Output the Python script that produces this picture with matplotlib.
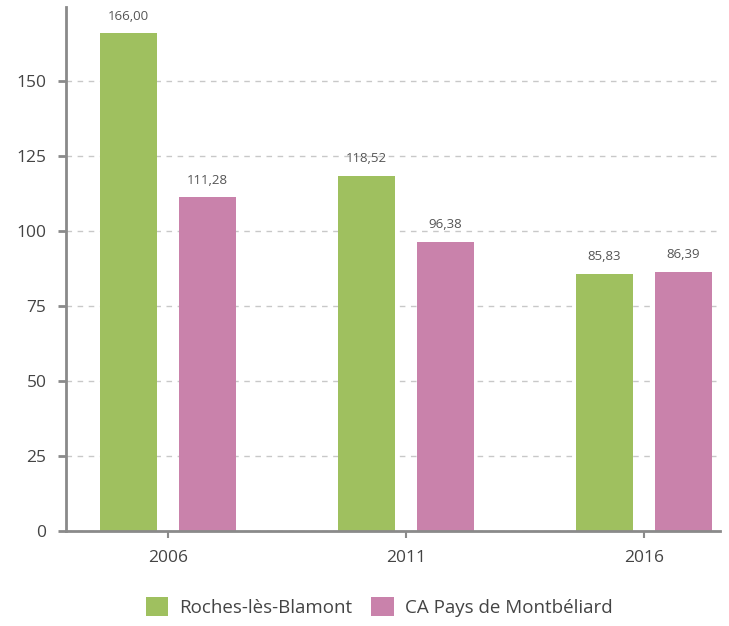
import numpy as np
import matplotlib
matplotlib.use("Agg")
import matplotlib.pyplot as plt

years = ["2006", "2011", "2016"]
roches = [166.00, 118.52, 85.83]
ca_pays = [111.28, 96.38, 86.39]
series_names = ["Roches-lès-Blamont", "CA Pays de Montbéliard"]
colors = ["#9fc05f", "#c982ab"]
yticks = [0, 25, 50, 75, 100, 125, 150]

plt.rcParams["font.family"] = ["Open Sans", "DejaVu Sans"]
text_col = "#444444"

fig = plt.figure(figsize=(7.29, 6.26), dpi=100)
ax = fig.add_axes([66 / 729, 95 / 626, 654 / 729, 524 / 626])

x = np.arange(len(years))
w = 0.24
off = 0.166
for vals, name, col, sign in [(roches, series_names[0], colors[0], -1),
                              (ca_pays, series_names[1], colors[1], 1)]:
    bars = ax.bar(x + sign * off, vals, w, color=col, label=name, zorder=3)
    for b, v in zip(bars, vals):
        ax.text(b.get_x() + b.get_width() / 2, v + 3.5, f"{v:.2f}".replace(".", ","),
                ha="center", va="bottom", fontsize=9.5, color="#555555")

ax.set_ylim(0, 174.7)
ax.set_xlim(-0.43, 2.32)
ax.set_yticks(yticks)
ax.set_xticks(x)
ax.set_xticklabels(years)
ax.yaxis.grid(True, linestyle=(0, (4, 4)), color="#c8c8c8", linewidth=1, zorder=0)
ax.set_axisbelow(True)

for s in ["top", "right"]:
    ax.spines[s].set_visible(False)
for s in ["left", "bottom"]:
    ax.spines[s].set_color("#8a8a8a")
    ax.spines[s].set_linewidth(2)
    ax.spines[s].set_zorder(4)
ax.tick_params(axis="y", length=6, width=2, color="#8a8a8a", labelsize=12.5,
               labelcolor=text_col, pad=8)
ax.tick_params(axis="x", length=5, width=1.5, color="#8a8a8a", labelsize=12.5,
               labelcolor=text_col, pad=9)

fig.legend(loc="lower center", bbox_to_anchor=(0.52, -0.012), ncol=2, frameon=False,
           fontsize=13.5, handlelength=1.2, handleheight=1.2, handletextpad=0.6,
           columnspacing=1.0, labelcolor=text_col)

fig.savefig("out.png", dpi=100)
